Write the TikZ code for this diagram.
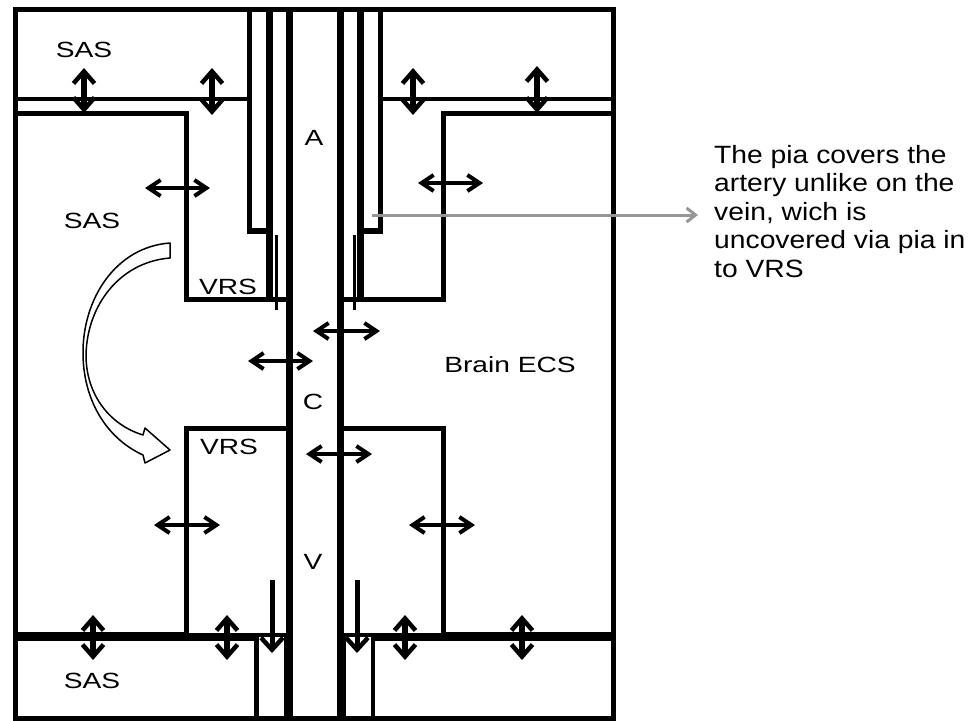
\documentclass[tikz,border=0pt]{standalone}
\usepackage{fontspec}
\usepackage{xcolor}
\usepackage{tikz}
\usetikzlibrary{arrows.meta}
\newfontfamily\labelfont[FakeStretch=1.28]{Liberation Sans}
\newfontfamily\notefont[FakeStretch=1.13]{Liberation Sans}
\definecolor{pointergray}{RGB}{150,150,150}
\tikzset{
  border/.style={line width=5pt},
  wall/.style={line width=7pt},
  sheath/.style={line width=5.5pt},
  pia/.style={line width=3pt},
  vflow/.style={
    line width=5.5pt,
    <->,
    >={Straight Barb[length=12pt,width=21pt,line width=4.5pt]}
  },
  hflow/.style={
    line width=4pt,
    <->,
    >={Straight Barb[length=12pt,width=16pt,line width=4pt]}
  },
  drain/.style={
    line width=5pt,
    ->,
    >={Straight Barb[length=12pt,width=22pt,line width=4.5pt]}
  },
  pointer/.style={
    draw=pointergray,
    line width=3pt,
    ->,
    >={Straight Barb[length=9pt,width=14pt,line width=3pt]}
  },
  bendarrow/.style={
    draw=black,
    fill=white,
    line width=1.5pt,
    line join=round
  },
  spacename/.style={
    inner sep=0pt,
    font=\labelfont\fontsize{22pt}{26pt}\selectfont
  },
  notetext/.style={
    inner sep=0pt,
    align=left,
    font=\notefont\fontsize{25pt}{28.5pt}\selectfont
  }
}

\begin{document}
\begin{tikzpicture}[x=1pt,y=-1pt]
    \useasboundingbox (0,0) rectangle (979,720);
    \fill[white] (0,0) rectangle (979,720);

    % outer frame and SAS boxes
    \draw[border] (15,9) rectangle (613,718);
    \draw[line width=4pt] (15,99) -- (249.5,99);
    \draw[line width=4pt] (380.5,99) -- (613,99);
    \draw[line width=3.5pt] (15,639) -- (256,639);
    \draw[line width=3.5pt] (373,639) -- (613,639);

    % brain regions
    \draw[border] (15,113) -- (186,113) -- (186,299) -- (289,299);
    \draw[border] (289,428) -- (186,428) -- (186,635);
    \draw[line width=5.5pt] (15,635) -- (186,635);
    \draw[line width=4pt] (186,635) -- (289,635);
    \draw[border] (613,113) -- (443,113) -- (443,299) -- (340,299);
    \draw[border] (340,428) -- (443,428) -- (443,635);
    \draw[line width=5.5pt] (443,635) -- (613,635);
    \draw[line width=4pt] (340,635) -- (443,635);

    % vessel walls
    \draw[wall] (289,9) -- (289,718);
    \draw[wall] (340,9) -- (340,718);
    \draw[line width=3pt] (285,637) -- (285,718);
    \draw[line width=3pt] (344.5,637) -- (344.5,718);

    % pial sheath round the artery
    \draw[sheath] (249.5,9) -- (249.5,231) -- (269,231);
    \draw[wall] (269,9) -- (269,297);
    \draw[sheath] (380.5,9) -- (380.5,231) -- (360,231);
    \draw[wall] (360,9) -- (360,297);
    \draw[pia] (276.5,235) -- (276.5,310);
    \draw[pia] (354,235) -- (354,310);

    % sheath round the vein
    \draw[line width=5pt] (256,635) -- (256,718);
    \draw[line width=4.5pt] (373,635) -- (373,718);

    % exchange arrows
    \foreach \x/\ya/\yb in {84/68/113, 212/68/115, 413/68/115, 537/66/113,
                            93/615/660, 227/615/660, 405/615/660, 522/615/660}
      \draw[vflow] (\x,\ya) -- (\x,\yb);
    \foreach \y/\xa/\xb in {188/145/210, 183/418/483, 361/248/313, 331/313/380,
                            454/306/372, 525/154/220, 525/409/475}
      \draw[hflow] (\xa,\y) -- (\xb,\y);
    \draw[drain] (272,580) -- (272,653);
    \draw[drain] (357,580) -- (357,653);

    % flow from SAS into VRS
    \filldraw[bendarrow] (170,243) .. controls (115,247) and (82,300) .. (83,355)
        .. controls (84,405) and (110,440) .. (143,455)
        -- (145,463) -- (170,450) -- (145,428) -- (143,435)
        .. controls (110,425) and (86,395) .. (86,355)
        .. controls (87,305) and (120,262) .. (170,258) -- cycle;

    % labels
    \node[spacename] (sastop) at (84,50) {SAS};
    \node[spacename] (sasmid) at (92,221) {SAS};
    \node[spacename] (vrsup) at (228,287) {VRS};
    \node[spacename] (art) at (314,138) {A};
    \node[spacename] (cap) at (313,402) {C};
    \node[spacename] (vrslow) at (229,447) {VRS};
    \node[spacename] (vein) at (313,562) {V};
    \node[spacename] (ecs) at (510,365) {Brain ECS};
    \node[spacename] (sasbot) at (92,681) {SAS};

    % note on the pia
    \node[notetext, anchor=north west] (note) at (714,145)
        {The pia covers the\\artery unlike on the\\vein, wich is\\uncovered via pia in\\to VRS};
    \coordinate (piaend) at (372,215);
    \draw[pointer, shorten >=16pt] (piaend) -- (piaend -| note.west);
\end{tikzpicture}
\end{document}
